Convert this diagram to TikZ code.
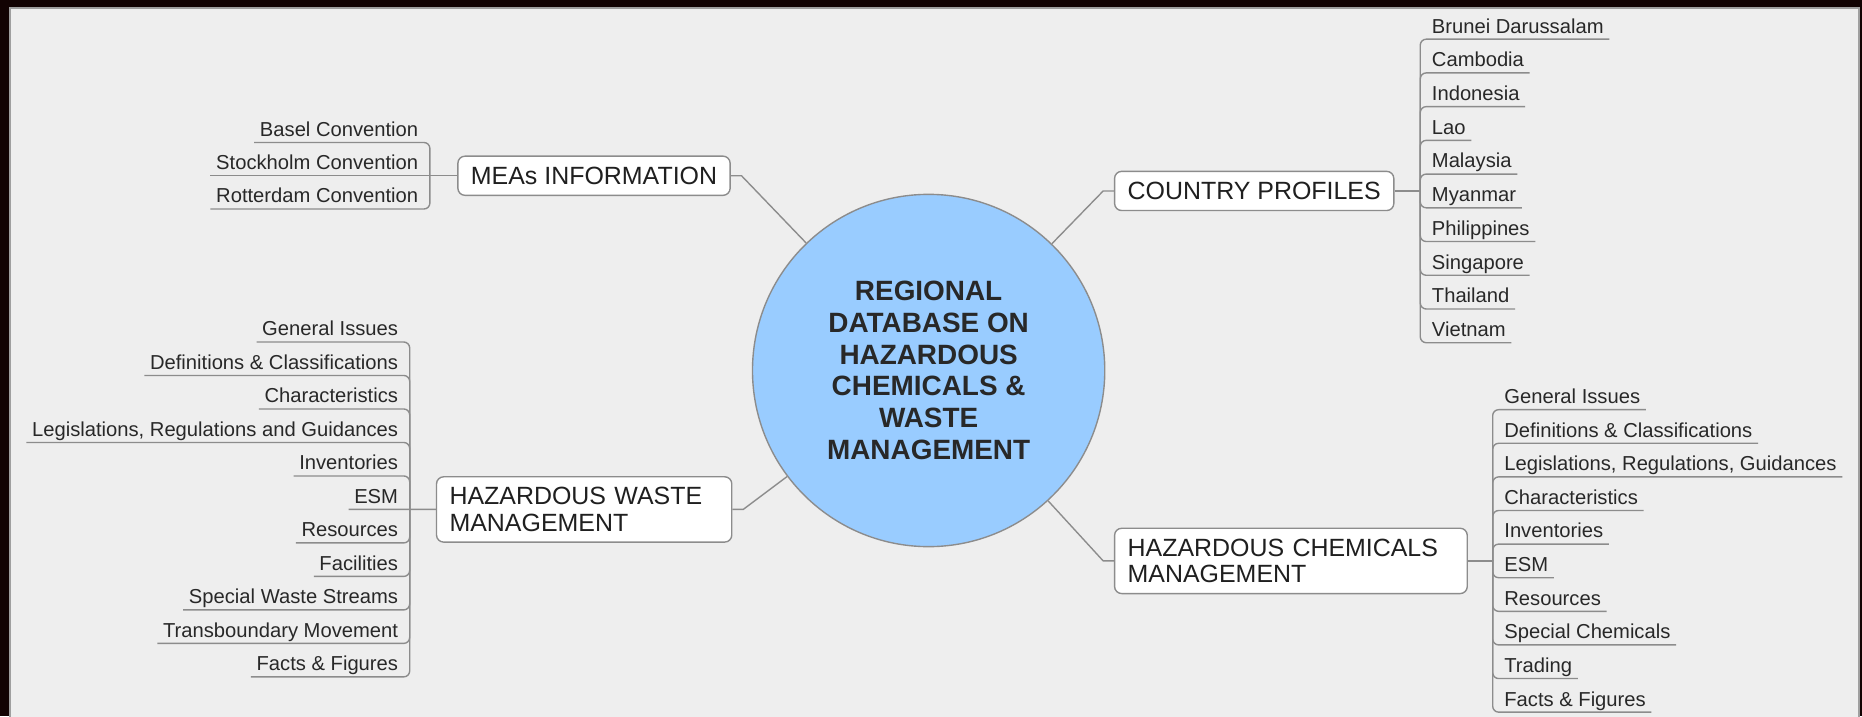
\documentclass[tikz,border=0pt]{standalone}
\usepackage{fontspec}
\setmainfont{Liberation Sans}
\usetikzlibrary{positioning, calc}

\definecolor{frame}{RGB}{18,3,3}
\definecolor{canvas}{RGB}{238,238,238}
\definecolor{hubblue}{RGB}{153,204,255}
\definecolor{linegrey}{RGB}{140,140,140}
\definecolor{ink}{RGB}{40,40,40}

\begin{document}
\begin{tikzpicture}[
        x=0.6pt, y=-0.6pt,
        wire/.style={draw=linegrey, line width=0.7pt},
        branch/.style={wire, rounded corners=3pt},
        hub/.style={circle, draw=linegrey, line width=0.7pt, fill=hubblue,
          minimum size=178pt, inner sep=0pt, align=center, text=ink,
          font=\fontsize{14.1}{16}\selectfont\bfseries},
        topic/.style={rectangle, rounded corners=3.6pt, draw=linegrey,
          line width=0.7pt, fill=white, inner xsep=6.6pt, inner ysep=0pt,
          minimum height=19.8pt, anchor=west, text=black!88,
          font=\fontsize{12.6}{13.6}\selectfont},
        twoline/.style={minimum height=33pt, align=left},
        leafR/.style={inner xsep=2.7pt, inner ysep=2.9pt, text depth=0pt,
          anchor=south west, text=ink, font=\fontsize{10.2}{12}\selectfont},
        leafL/.style={leafR, anchor=south east},
        ]
        \useasboundingbox (0,0) rectangle (1568,603);
        \fill[frame] (0,0) rectangle (1568,603);
        \filldraw[fill=canvas, draw=gray!75, line width=0.9pt] (8.4,6.7) rectangle (1565.5,610);

        \node[hub] (hub) at (782,312) {REGIONAL\\DATABASE ON\\HAZARDOUS\\CHEMICALS \&\\WASTE\\MANAGEMENT};

        \node[topic] (mea) at (385,148) {MEAs INFORMATION};
        \node[topic] (cntry) at (938,160.8) {COUNTRY PROFILES};
        \node[topic, twoline, text width=136pt] (hwm) at (367,429) {HAZARDOUS WASTE\\MANAGEMENT};
        \node[topic, twoline, text width=165pt] (hcm) at (938,472.35) {HAZARDOUS CHEMICALS\\MANAGEMENT};

        \draw[wire] (mea.east) -- ++(9,0) -- (hub);
        \draw[wire] (hwm.east) -- ++(9,0) -- (hub);
        \draw[wire] (cntry.west) -- ++(-9,0) -- (hub);
        \draw[wire] (hcm.west) -- ++(-9,0) -- (hub);

        % MEAs
        \coordinate (meaJ) at (362,148);
        \foreach \txt [count=\i] in {Basel Convention, Stockholm Convention, Rotterdam Convention}
          \node[leafL] (mea\i) at (357,{120+28*(\i-1)}) {\txt};
        \draw[wire] (mea.west) -- (meaJ) -- (mea2.south west);
        \foreach \i in {1,3}
          \draw[branch] (meaJ) |- (mea\i.south west);

        % hazardous waste
        \coordinate (hwJ) at (345,429);
        \foreach \txt [count=\i] in {General Issues, Definitions \& Classifications, Characteristics,
            {Legislations, Regulations and Guidances}, Inventories, ESM, Resources, Facilities,
            Special Waste Streams, Transboundary Movement, Facts \& Figures}
          \node[leafL] (hw\i) at (340,{288+28.2*(\i-1)}) {\txt};
        \draw[wire] (hwm.west) -- (hwJ) -- (hw6.south west);
        \foreach \i in {1,...,5,7,8,9,10,11}
          \draw[branch] (hwJ) |- (hw\i.south west);

        % country profiles
        \coordinate (cpJ) at (1196,160.8);
        \foreach \txt [count=\i] in {Brunei Darussalam, Cambodia, Indonesia, Lao, Malaysia,
            Myanmar, Philippines, Singapore, Thailand, Vietnam}
          \node[leafR] (cp\i) at (1201,{33+28.4*(\i-1)}) {\txt};
        \draw[wire] (cntry.east) -- (cpJ);
        \foreach \i in {1,...,10}
          \draw[branch] (cpJ) |- (cp\i.south east);

        % hazardous chemicals
        \coordinate (hcJ) at (1257,472.35);
        \foreach \txt [count=\i] in {General Issues, Definitions \& Classifications,
            {Legislations, Regulations, Guidances}, Characteristics, Inventories, ESM,
            Resources, Special Chemicals, Trading, Facts \& Figures}
          \node[leafR] (hc\i) at (1262,{345+28.3*(\i-1)}) {\txt};
        \draw[wire] (hcm.east) -- (hcJ);
        \foreach \i in {1,...,10}
          \draw[branch] (hcJ) |- (hc\i.south east);
\end{tikzpicture}
\end{document}
